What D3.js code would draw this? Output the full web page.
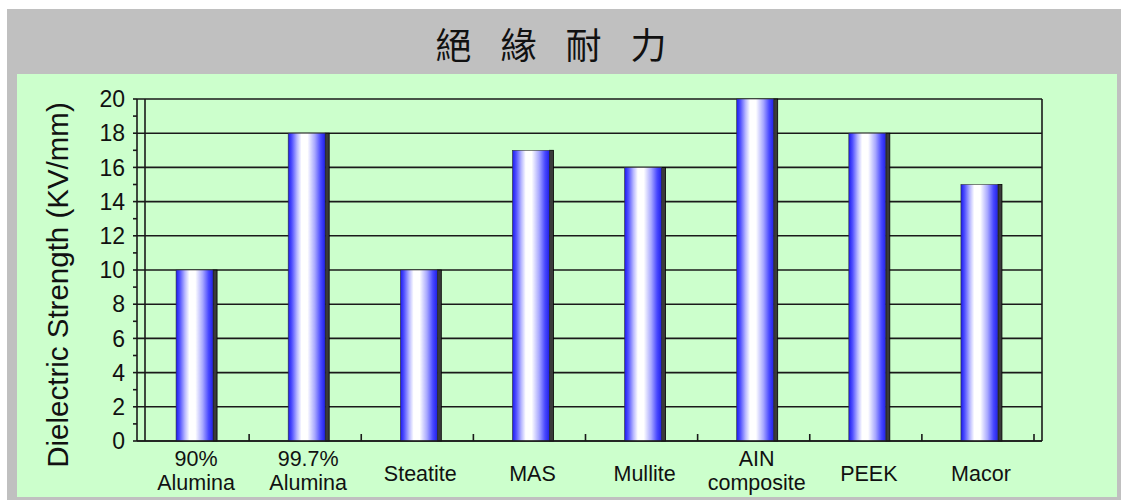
<!DOCTYPE html>
<html>
<head>
<meta charset="utf-8">
<script src="https://cdn.jsdelivr.net/npm/d3@7"></script>
<style>
  body { margin: 0; background: #fff; }
  text { font-family: "Liberation Sans", Arial, sans-serif; fill: #111; }
</style>
</head>
<body>
<script>
var titleChars = ['絕', '緣', '耐', '力'];
var categories = ['90%\nAlumina', '99.7%\nAlumina', 'Steatite', 'MAS', 'Mullite', 'AIN\ncomposite', 'PEEK', 'Macor'];
var values = [10, 18, 10, 17, 16, 20, 18, 15];
var yTicks = [0, 2, 4, 6, 8, 10, 12, 14, 16, 18, 20];
var yMinor = [1, 3, 5, 7, 9, 11, 13, 15, 17, 19];

var W = 1121, H = 500;
var svg = d3.select('body').append('svg').attr('width', W).attr('height', H);

// frame
svg.append('rect').attr('x', 7).attr('y', 9).attr('width', W - 7).attr('height', H - 9).attr('fill', '#c0c0c0');
svg.append('rect').attr('x', 17).attr('y', 74).attr('width', 1100).attr('height', 423).attr('fill', '#ccffcc');

// title
svg.selectAll('text.title')
   .data(titleChars).enter().append('text')
   .attr('class', 'title')
   .attr('x', (d, i) => 551 + (i - 1.5) * 65)
   .attr('y', 46)
   .attr('dy', '0.36em')
   .attr('text-anchor', 'middle')
   .style('font-family', '"Noto Sans CJK TC", "Noto Sans CJK SC", sans-serif')
   .style('font-size', '36px')
   .text(d => d);

var left = 137, right = 1034, depth = 8;
var x = d3.scaleBand().domain(categories).range([left, right]);
var y = d3.scaleLinear().domain([0, 20]).range([441, 99]);

// gradient for the cylinder-like bars
var grad = svg.append('defs').append('linearGradient').attr('id', 'barGrad');
[[0, '#1a1aee'], [0.1, '#5050ff'], [0.24, '#b8b8ff'], [0.36, '#ffffff'], [0.52, '#ffffff'],
 [0.72, '#a8a8ff'], [0.88, '#4848ff'], [1, '#2020e8']].forEach(function(s) {
  grad.append('stop').attr('offset', s[0]).attr('stop-color', s[1]);
});

// gridlines
svg.selectAll('line.grid')
   .data(yTicks).enter().append('line')
   .attr('class', 'grid')
   .attr('x1', left).attr('x2', right + depth)
   .attr('y1', d => y(d)).attr('y2', d => y(d))
   .attr('stroke', '#1a1a1a').attr('stroke-width', 1.6);

// walls
svg.append('line').attr('x1', left + depth).attr('x2', left + depth).attr('y1', y(20)).attr('y2', y(0))
   .attr('stroke', '#1a1a1a').attr('stroke-width', 1.6);
svg.append('line').attr('x1', right + depth).attr('x2', right + depth).attr('y1', y(20)).attr('y2', y(0))
   .attr('stroke', '#1a1a1a').attr('stroke-width', 1.6);
svg.append('line').attr('x1', left).attr('x2', left).attr('y1', y(20)).attr('y2', y(0))
   .attr('stroke', '#1a1a1a').attr('stroke-width', 1.6);

// y ticks
svg.selectAll('line.ytick')
   .data(yTicks.concat(yMinor)).enter().append('line')
   .attr('class', 'ytick')
   .attr('x1', left - 4).attr('x2', left)
   .attr('y1', d => y(d)).attr('y2', d => y(d))
   .attr('stroke', '#1a1a1a').attr('stroke-width', 1.6);

svg.selectAll('text.ylab')
   .data(yTicks).enter().append('text')
   .attr('class', 'ylab')
   .attr('x', 125)
   .attr('y', d => y(d))
   .attr('dy', '0.36em')
   .attr('text-anchor', 'end')
   .style('font-size', '23px')
   .text(d => d);

svg.append('text')
   .attr('transform', 'translate(68,285) rotate(-90)')
   .attr('text-anchor', 'middle')
   .style('font-size', '29.5px')
   .text('Dielectric Strength (KV/mm)');

// bars
var front = 37, side = 4;
var bars = svg.selectAll('g.bar')
   .data(categories).enter().append('g')
   .attr('class', 'bar');

bars.append('rect')
   .attr('x', d => x(d) + x.bandwidth() / 2 - 17 + front)
   .attr('y', (d, i) => y(values[i]))
   .attr('width', side)
   .attr('height', (d, i) => y(0) - y(values[i]))
   .attr('fill', '#3a3a3a')
   .attr('stroke', '#000').attr('stroke-width', 0.8);

bars.append('rect')
   .attr('x', d => x(d) + x.bandwidth() / 2 - 17)
   .attr('y', (d, i) => y(values[i]))
   .attr('width', front)
   .attr('height', (d, i) => y(0) - y(values[i]))
   .attr('fill', 'url(#barGrad)')
   .attr('stroke', '#333').attr('stroke-width', 0.6);

// x axis
svg.append('line').attr('x1', left).attr('x2', right + depth).attr('y1', y(0)).attr('y2', y(0))
   .attr('stroke', '#1a1a1a').attr('stroke-width', 1.6);
svg.selectAll('line.xtick')
   .data(categories).enter().append('line')
   .attr('class', 'xtick')
   .attr('x1', d => x(d) + x.bandwidth()).attr('x2', d => x(d) + x.bandwidth())
   .attr('y1', y(0)).attr('y2', y(0) - 7)
   .attr('stroke', '#1a1a1a').attr('stroke-width', 1.6);

// two-line labels go in separate text elements
var labelRows = [];
categories.forEach(function(c) {
  var lines = c.split('\n');
  lines.forEach(function(s, j) {
    labelRows.push({ cat: c, text: s, y: lines.length === 1 ? 481 : 466 + j * 24 });
  });
});

svg.selectAll('text.xlab')
   .data(labelRows).enter().append('text')
   .attr('class', 'xlab')
   .attr('text-anchor', 'middle')
   .attr('x', d => x(d.cat) + x.bandwidth() / 2 + 3)
   .attr('y', d => d.y)
   .style('font-size', '21.5px')
   .text(d => d.text);
</script>
</body>
</html>
